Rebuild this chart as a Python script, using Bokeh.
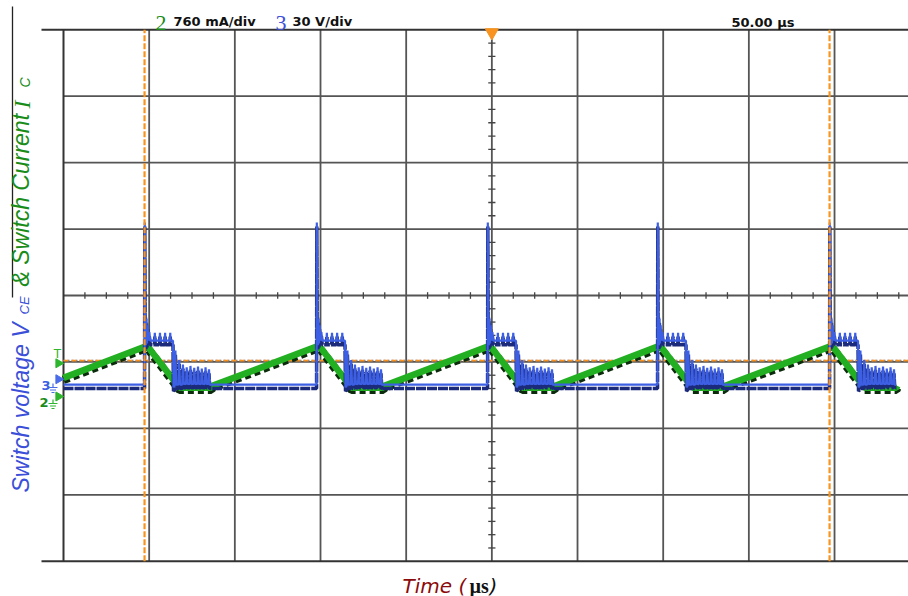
import math
from bokeh.plotting import figure
from bokeh.models import Range1d
from bokeh.embed import file_html
from bokeh.resources import INLINE
from bokeh.core.properties import value

# ---------------- data ----------------
time_per_div_us = 50.0
vertical_grid_divs = [1, 2, 3, 4, 5, 6, 7, 8, 9]          # interior vertical graticule
horizontal_grid_divs = [-3, -2, -1, 0, 1, 2, 3]          # interior horizontal graticule
border_divs = [-4, 4]
switch_times_us = [47.3, 147.7, 247.5, 346.7, 447.1]
cursor_times_us = [47.3, 447.1]
trigger_time_us = 250.0
trigger_level_div = -0.98
ch3_ref_div = -1.26
ch2_ref_div = -1.52

# trace values at the left edge of the screen (t = 0)
vce_start_div = -1.34
ic_start_div = -1.25

# Switch voltage V_CE (channel 3), offsets from each switching edge (us) / level (div)
vce_offsets_us = [0.0, 0.15, 0.35, 0.55, 0.8, 1.1, 1.4, 1.8, 2.2, 2.8, 3.3,
                  5.8, 6.0, 6.2, 8.8, 9.0, 9.2, 11.8, 12.0, 12.2, 14.8, 15.0, 15.2,
                  16.6, 16.9,
                  17.6, 18.0, 18.5, 19.8, 20.2, 20.7, 22.0, 22.4, 22.9, 24.2, 24.6, 25.1,
                  26.4, 26.8, 27.3, 28.6, 29.0, 29.5, 30.8, 31.2, 31.7, 33.0, 33.4, 33.9,
                  35.2, 35.6, 36.1, 37.2, 37.6, 38.1, 38.6]
vce_levels_div = [-1.34, 1.10, -0.45, -0.27, -0.75, -0.35, -0.72, -0.45, -0.68, -0.55, -0.68,
                  -0.68, -0.56, -0.68, -0.68, -0.56, -0.68, -0.68, -0.56, -0.68, -0.68, -0.56, -0.68,
                  -0.68, -1.38,
                  -1.36, -0.83, -1.34, -1.34, -0.97, -1.34, -1.34, -1.04, -1.33, -1.33, -1.08, -1.33,
                  -1.33, -1.06, -1.33, -1.33, -1.09, -1.33, -1.33, -1.07, -1.33, -1.33, -1.10, -1.33,
                  -1.33, -1.08, -1.33, -1.33, -1.11, -1.35, -1.34]

# Switch current I_C (channel 2), offsets from each switching edge (us) / level (div)
ic_offsets_us = [0.0, 2.5, 20.4, 39.0, 39.5]
ic_levels_div = [-0.78, -0.80, -1.40, -1.40, -1.37]

# ---------------- build traces from the read values ----------------
def build(start, offsets, levels):
    xs, ys = [0.0], [start]
    for i, ts in enumerate(switch_times_us):
        nxt = switch_times_us[i + 1] if i + 1 < len(switch_times_us) else ts + 100.0
        for o, v in zip(offsets, levels):
            if ts + o < nxt:
                xs.append(ts + o)
                ys.append(v)
    return xs, ys

vce_t, vce_v = build(vce_start_div, vce_offsets_us, vce_levels_div)
ic_t, ic_v = build(ic_start_div, ic_offsets_us, ic_levels_div)

# ---------------- layout (picture pixels -> data) ----------------
X0, PXUS = 63.0, 85.67 / time_per_div_us   # px of t=0, px per us
Y0, PXDIV = 295.0, 66.44                   # px of 0 div, px per div
W, H = 908, 596
def tx(px):
    return (px - X0) / PXUS
def ty(py):
    return (Y0 - py) / PXDIV

p = figure(width=W, height=H, output_backend="svg", toolbar_location=None,
           x_axis_type=None, y_axis_type=None, min_border=0,
           x_range=Range1d(tx(0), tx(W)), y_range=Range1d(ty(H), ty(0)))
p.outline_line_color = None
p.background_fill_color = "white"
p.border_fill_color = "white"
p.grid.visible = False

t_end = tx(W) + 5
# graticule
gx = [d * time_per_div_us for d in vertical_grid_divs]
p.segment(x0=gx, y0=[-4] * len(gx), x1=gx, y1=[4] * len(gx), line_color="#555555", line_width=1.8)
p.segment(x0=[0] * len(horizontal_grid_divs), y0=horizontal_grid_divs, x1=[t_end] * len(horizontal_grid_divs),
          y1=horizontal_grid_divs, line_color="#555555", line_width=1.8)
p.segment(x0=[tx(41)] * 2, y0=border_divs, x1=[t_end] * 2, y1=border_divs, line_color="#333333", line_width=2)
p.segment(x0=[0], y0=[-4], x1=[0], y1=[4], line_color="#333333", line_width=2)
# minor ticks on centre lines
htick_t = [k * time_per_div_us / 4 for k in range(0, 41) if k % 4]
p.segment(x0=htick_t, y0=[-0.05] * len(htick_t), x1=htick_t, y1=[0.05] * len(htick_t),
          line_color="#444444", line_width=1.3)
vtick_d = [k / 5 for k in range(-20, 21) if k % 5]
p.segment(x0=[trigger_time_us - 2.1] * len(vtick_d), y0=vtick_d, x1=[trigger_time_us + 2.1] * len(vtick_d),
          y1=vtick_d, line_color="#444444", line_width=1.3)
# stray line at far left
p.segment(x0=[tx(12)], y0=[ty(6)], x1=[tx(12)], y1=[ty(297)], line_color="#222222", line_width=1.3)

# trigger level line
p.line([0, t_end], [trigger_level_div] * 2, line_color="#7a7a9a", line_width=1.5, line_dash="2 2")
p.line([0, t_end], [trigger_level_div] * 2, line_color="#f7931e", line_width=1.8, line_dash="5 3")

# current trace (green with dark stair edges)
p.line(ic_t, [v - 0.02 for v in ic_v], line_color="#0c2a0c", line_width=8.5, line_dash="6 4")
p.line(ic_t, [v + 0.01 for v in ic_v], line_color="#22b022", line_width=6.5)
# voltage trace (blue with dark persistence underneath)
p.line(vce_t, [v - 0.06 for v in vce_v], line_color="#1b2a7a", line_width=3.5, line_dash="10 1")
p.line(vce_t, vce_v, line_color="#3d5fe3", line_width=2.2)

# cursors
p.segment(x0=cursor_times_us, y0=[-4] * 2, x1=cursor_times_us, y1=[4] * 2,
          line_color="#f7931e", line_width=2.2, line_dash="6 2")
# trigger position marker
p.scatter([trigger_time_us], [ty(32)], marker="inverted_triangle", size=13,
          fill_color="#f7931e", line_color="#f7931e")

# channel reference markers
p.scatter([tx(58)] * 3, [trigger_level_div - 0.04, ch3_ref_div, ch2_ref_div], marker="triangle",
          angle=-math.pi / 2, size=9, fill_color=["#2db52d", "#4a6ce8", "#2db52d"],
          line_color=["#2db52d", "#4a6ce8", "#2db52d"])
p.text([tx(57)], [ty(353)], text=["T"], text_align="center", text_baseline="alphabetic",
       text_font=value("DejaVu Sans"), text_font_size="12px", text_color="#2db52d")
p.text([tx(50)], [ty(385)], text=["3"], text_align="right", text_baseline="alphabetic",
       text_font=value("DejaVu Sans"), text_font_style="bold", text_font_size="13px", text_color="#3d5fe3")
p.text([tx(48)], [ty(402)], text=["2"], text_align="right", text_baseline="alphabetic",
       text_font=value("DejaVu Sans"), text_font_style="bold", text_font_size="13px", text_color="#1a8c1a")
# ground symbols
for cx, cy, col in [(52.5, 386, "#4a6ce8"), (52.5, 402, "#2db52d")]:
    p.segment(x0=[tx(cx), tx(cx - 4.5), tx(cx - 3), tx(cx - 1.5)],
              y0=[ty(cy - 3), ty(cy + 1), ty(cy + 3.5), ty(cy + 6)],
              x1=[tx(cx), tx(cx + 4.5), tx(cx + 3), tx(cx + 1.5)],
              y1=[ty(cy + 1), ty(cy + 1), ty(cy + 3.5), ty(cy + 6)], line_color=col, line_width=1.2)

# top captions
p.text([tx(155)], [ty(22)], text=["2"], text_font=value("Liberation Serif"), text_font_size="22px",
       text_color="#1a8c1a", text_baseline="alphabetic")
p.text([tx(173)], [ty(21)], text=["760 mA/div"], text_font=value("DejaVu Sans"), text_font_style="bold",
       text_font_size="13px", text_color="#111111", text_baseline="alphabetic")
p.text([tx(275)], [ty(22)], text=["3"], text_font=value("Liberation Serif"), text_font_size="22px",
       text_color="#3d4fd8", text_baseline="alphabetic")
p.text([tx(292)], [ty(21)], text=["30 V/div"], text_font=value("DejaVu Sans"), text_font_style="bold",
       text_font_size="13px", text_color="#111111", text_baseline="alphabetic")
p.text([tx(731)], [ty(22)], text=["50.00 µs"], text_font=value("DejaVu Sans"), text_font_style="bold",
       text_font_size="13px", text_color="#111111", text_baseline="alphabetic")

# bottom axis title
p.text([tx(402)], [ty(585)], text=["Time ("], text_font=value("DejaVu Sans"), text_font_style="italic",
       text_font_size="20px", text_color="#8b0a0a", text_baseline="alphabetic")
p.text([tx(469)], [ty(585)], text=["µs"], text_font=value("Liberation Serif"), text_font_style="bold",
       text_font_size="20px", text_color="#111111", text_baseline="alphabetic")
p.text([tx(489)], [ty(585)], text=[")"], text_font=value("DejaVu Sans"), text_font_style="italic",
       text_font_size="20px", text_color="#111111", text_baseline="alphabetic")

# left (rotated) axis title
BLUE_T, GREEN_T = "#3b4fd8", "#1a8c1a"
def vtext(px, py, s, col, size, font="Liberation Sans", style="italic"):
    p.text([tx(px)], [ty(py)], text=[s], angle=math.pi / 2, text_align="left",
           text_baseline="alphabetic", text_font=value(font), text_font_style=style,
           text_font_size=size, text_color=col)
vtext(20, 492, "Switch voltage V", BLUE_T, "23px")
vtext(24, 314, "CE", BLUE_T, "13px")
vtext(20, 286, "& Switch Current ", GREEN_T, "23px")
vtext(21, 108, "I", GREEN_T, "24px", font="Liberation Serif", style="italic")
vtext(24, 87, "C", GREEN_T, "14px")

open("out.html", "w").write(file_html(p, INLINE))
